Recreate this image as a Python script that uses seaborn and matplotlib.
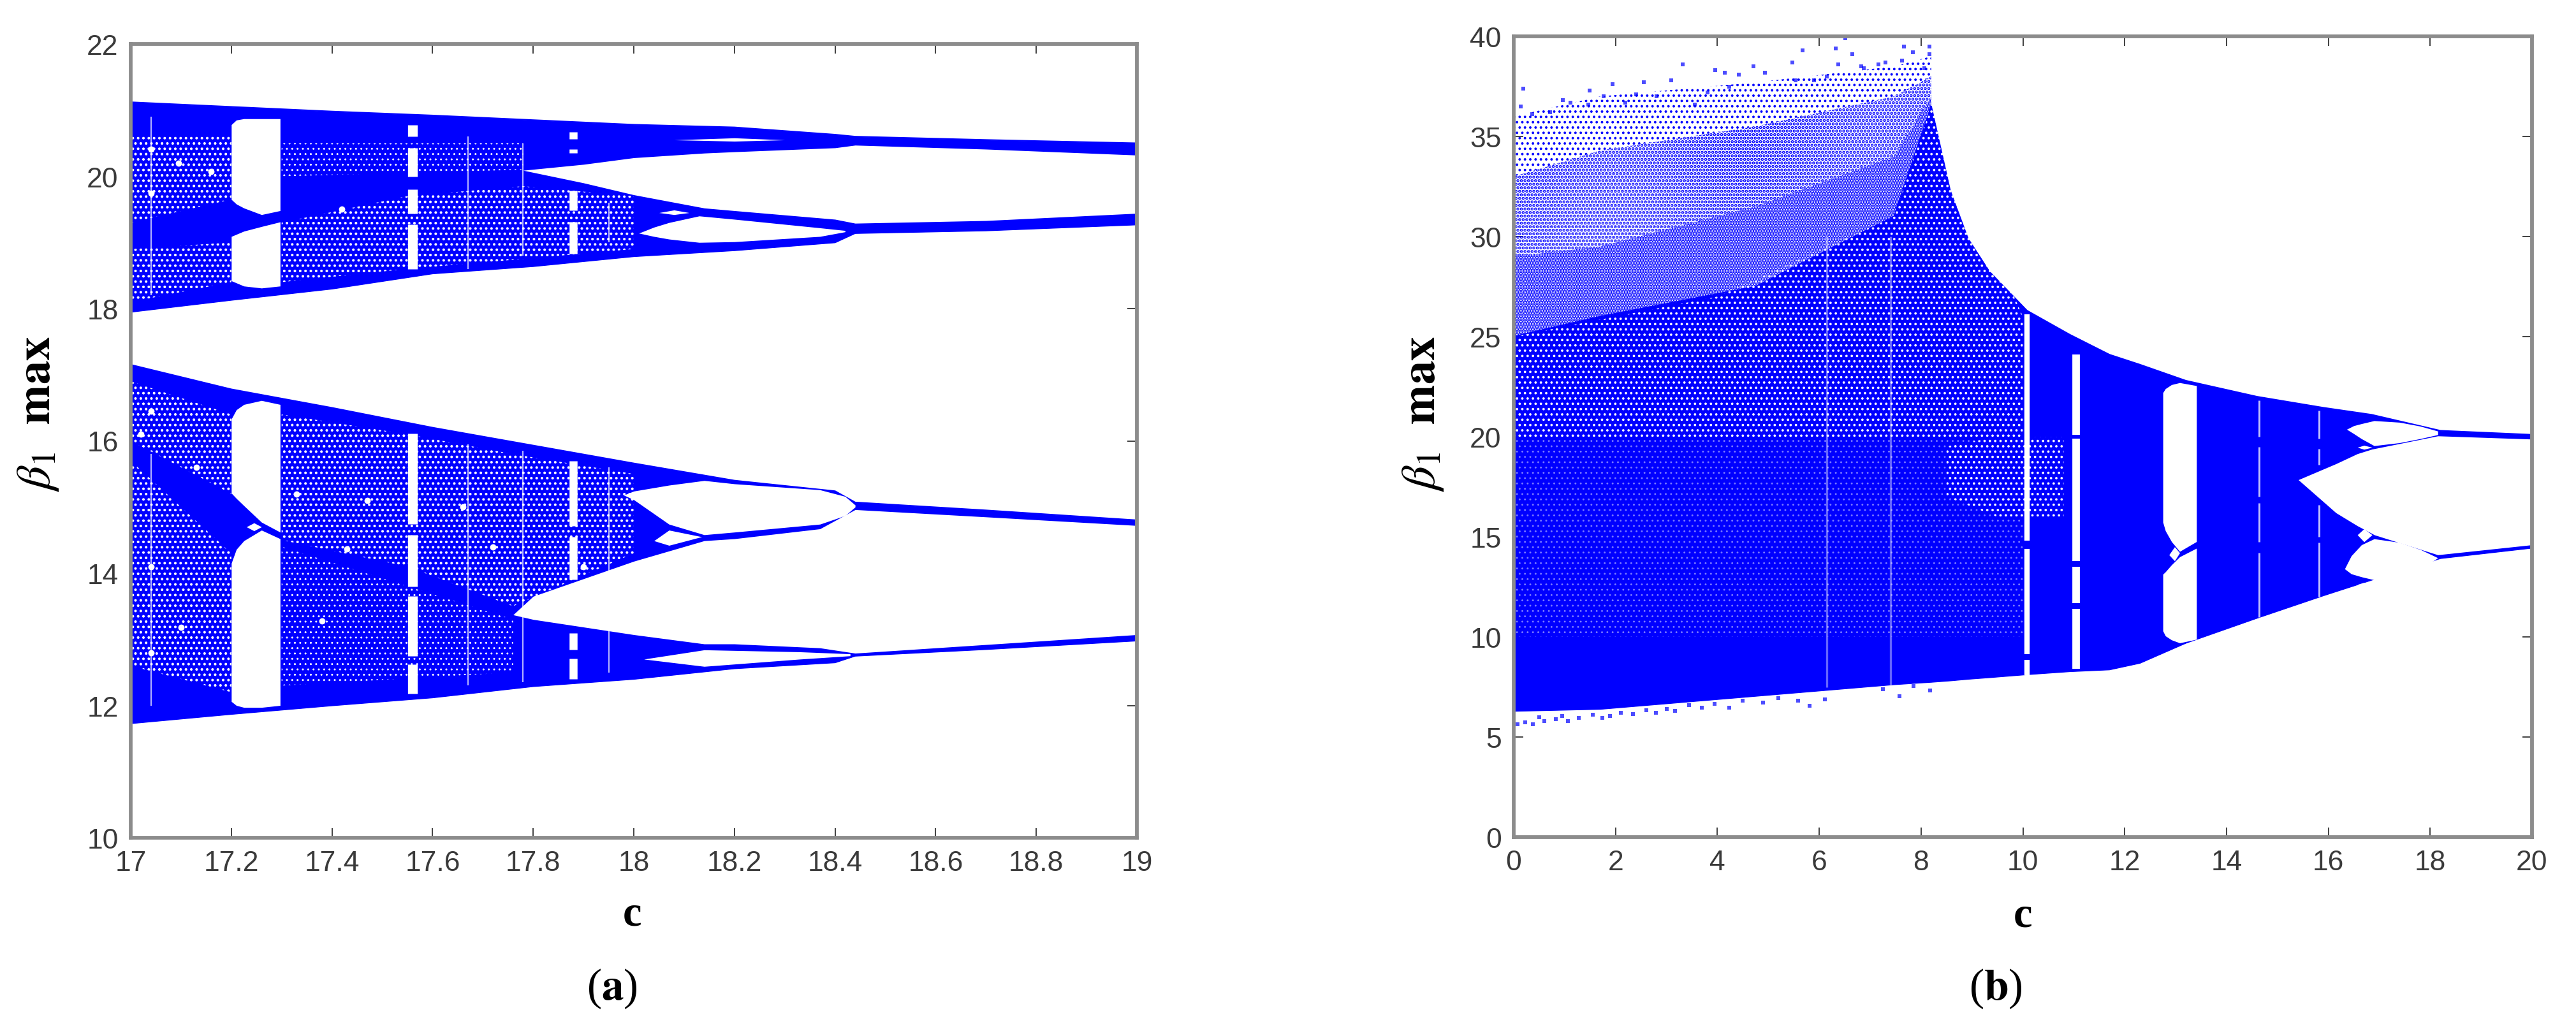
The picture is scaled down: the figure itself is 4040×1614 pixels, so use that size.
import matplotlib
matplotlib.use('Agg')
import matplotlib.pyplot as plt
import seaborn as sns

sns.set_theme(style='white')
plt.rcParams['font.family'] = ['Liberation Sans', 'DejaVu Sans']
plt.rcParams['mathtext.fontset'] = 'stix'
plt.rcParams['hatch.linewidth'] = 1.3

BLUE = '#0000ff'
WIDTH, HEIGHT = 4041, 1615

# ---- panel (a): outer bands
a_c = [17, 17.2, 17.4, 17.6, 17.8, 18, 18.2, 18.4, 18.44, 18.7, 19]
a_top_hi = [21.12, 21.05, 20.98, 20.92, 20.85, 20.78, 20.74, 20.63, 20.6, 20.55, 20.5]
a_top_lo = [17.95, 18.13, 18.3, 18.53, 18.64, 18.79, 18.88, 19.0, 19.14, 19.18, 19.27]
a_bot_hi = [17.15, 16.78, 16.5, 16.2, 15.93, 15.66, 15.4, 15.24, 15.07, 14.95, 14.8]
a_bot_lo = [11.73, 11.87, 12.0, 12.12, 12.29, 12.4, 12.56, 12.65, 12.75, 12.85, 12.98]

# panel (a): white wedges and eyes (c, low, high)
a_wedge1 = ([17.78, 17.9, 18, 18.14, 18.2, 18.4, 18.44, 18.7, 19],
            [20.09, 19.9, 19.72, 19.52, 19.48, 19.35, 19.29, 19.33, 19.44],
            [20.09, 20.18, 20.28, 20.35, 20.37, 20.43, 20.47, 20.41, 20.32])
a_wedge2 = ([17.76, 17.8, 18, 18.14, 18.2, 18.37, 18.44, 18.7, 19],
            [13.37, 13.3, 13.07, 12.93, 12.93, 12.87, 12.79, 12.92, 13.07],
            [13.37, 13.65, 14.18, 14.49, 14.52, 14.67, 14.96, 14.85, 14.72])
a_eye1 = ([18.01, 18.04, 18.07, 18.13, 18.2, 18.37, 18.42], [19.14, 19.09, 19.05, 19.0, 19.01, 19.09, 19.16], [19.14, 19.23, 19.3, 19.4, 19.35, 19.22, 19.18])
a_eye2 = ([17.98, 18.0, 18.07, 18.14, 18.2, 18.37, 18.42, 18.44], [15.18, 15.11, 14.74, 14.58, 14.62, 14.74, 14.87, 15.0], [15.18, 15.24, 15.33, 15.4, 15.35, 15.26, 15.16, 15.03])
a_eye3 = ([18.04, 18.07, 18.135], [14.49, 14.42, 14.55], [14.49, 14.65, 14.55])
a_eye4 = ([18.02, 18.14, 18.33, 18.43], [12.7, 12.59, 12.7, 12.75], [12.7, 12.84, 12.81, 12.78])
a_eye5 = ([18.08, 18.2, 18.3], [20.55, 20.53, 20.55], [20.55, 20.58, 20.55])
a_eye6 = ([18.05, 18.08, 18.11], [19.45, 19.42, 19.45], [19.45, 19.49, 19.45])
a_eye7 = ([17.23, 17.245, 17.26], [14.7, 14.64, 14.7], [14.7, 14.76, 14.7])
a_win1 = ([17.2, 17.21, 17.225, 17.26, 17.297], [19.65, 19.58, 19.52, 19.42, 19.48], [20.78, 20.85, 20.87, 20.87, 20.87])
a_win2 = ([17.2, 17.225, 17.26, 17.297], [18.42, 18.34, 18.31, 18.34], [19.09, 19.17, 19.24, 19.31])
a_win3 = ([17.2, 17.21, 17.225, 17.26, 17.297], [15.21, 15.13, 15.02, 14.77, 14.62], [16.33, 16.47, 16.55, 16.61, 16.55])
a_win4 = ([17.2, 17.21, 17.225, 17.26, 17.297], [12.06, 12.0, 11.97, 11.97, 12.0], [14.15, 14.36, 14.49, 14.65, 14.52])

# panel (a): speckled zones
a_spk1 = ([17.0, 17.2], [19.3, 19.65], [20.6, 20.6])
a_spk2 = ([17.0, 17.2], [18.1, 18.4], [18.9, 19.0])
a_spk3 = ([17.3, 17.55, 17.78, 18.0], [18.4, 18.6, 18.75, 18.9], [19.3, 19.7, 19.85, 19.7])
a_spk4 = ([17.0, 17.2], [16.0, 15.2], [16.9, 16.4])
a_spk5 = ([17.0, 17.2], [12.6, 12.2], [15.7, 14.3])
a_spk6 = ([17.3, 17.55, 17.76, 18.0], [14.5, 14.1, 13.5, 14.3], [16.4, 16.1, 15.8, 15.5])
a_spk7 = ([17.3, 17.76], [12.3, 12.5], [14.4, 13.3])
a_spk8 = ([17.3, 17.78], [20.0, 20.1], [20.5, 20.5])

# panel (a): biggest white blotches
a_blot_c = [17.04, 17.095, 17.04, 17.16, 17.42, 17.1, 17.04, 17.04, 17.04, 17.38, 17.43, 17.33, 17.02, 17.13, 17.47, 17.66, 17.72, 17.9]
a_blot_v = [20.41, 20.2, 19.74, 20.07, 19.5, 13.18, 12.8, 14.1, 16.45, 13.28, 14.37, 15.2, 16.1, 15.6, 15.1, 15.0, 14.4, 14.1]

# panel (a): white gaps (c, low, high)
a_gap_c = [17.56] * 8
a_gap_lo = [20.6, 20.0, 19.44, 18.6, 14.74, 13.8, 12.75, 12.18]
a_gap_hi = [20.78, 20.43, 19.8, 19.27, 16.11, 14.58, 13.65, 12.62]
a_gap2_c = [17.88] * 8
a_gap2_lo = [20.56, 20.35, 19.48, 18.83, 14.71, 13.9, 12.84, 12.4]
a_gap2_hi = [20.67, 20.41, 19.78, 19.31, 15.7, 14.55, 13.09, 12.71]
a_thin_c = [17.04, 17.67, 17.78, 17.95, 17.04, 17.67, 17.78, 17.95]
a_thin_lo = [18.2, 18.6, 18.8, 19.0, 12.0, 12.3, 12.35, 12.5]
a_thin_hi = [20.9, 20.6, 20.5, 19.6, 15.8, 15.95, 15.85, 15.6]

# ---- panel (b): outer band
b_c = [0, 1.7, 4.75, 7.47, 8.2, 8.57, 8.92, 9.34, 10.08, 10.92, 11.7, 12.3, 13.2, 14.6, 15.9, 16.85, 18.2, 20]
b_lo = [6.3, 6.4, 7.05, 7.63, 7.75, 7.82, 7.9, 7.98, 8.13, 8.28, 8.37, 8.7, 9.7, 10.95, 12.07, 12.85, 13.93, 14.45]
b_hi = [25, 26, 27.5, 31, 36.5, 32.3, 29.9, 28.25, 26.3, 25.1, 24.1, 23.6, 22.8, 22, 21.45, 21.1, 20.3, 20.1]

# panel (b): sparser clouds above the band
b_cloud_c = [0, 1.7, 4.75, 7.47, 8.2]
b_cloud0 = [25, 26, 27.5, 31, 36.5]
b_cloud1 = [29, 29.5, 31.5, 34, 37]
b_cloud2 = [33, 34.3, 35.5, 37, 38]
b_cloud3 = [36, 37, 37.7, 38.5, 39]

# panel (b): white wedge and eyes
b_wedge = ([15.41, 16.15, 16.57, 16.86, 16.9, 18.15, 20],
           [17.85, 16.2, 15.55, 15.16, 15.1, 14.1, 14.6],
           [17.85, 18.65, 19.15, 19.38, 19.4, 20.04, 19.88])
b_eye1 = ([16.36, 16.5, 16.65, 16.9, 17.4, 17.8, 18.15], [20.37, 20.15, 19.9, 19.55, 19.7, 19.9, 20.1], [20.37, 20.55, 20.65, 20.8, 20.72, 20.53, 20.28])
b_eye2 = ([16.32, 16.45, 16.65, 16.9, 17.4, 17.82, 18.15], [13.4, 13.15, 13.0, 12.85, 13.05, 13.4, 13.95], [13.4, 14.05, 14.6, 14.9, 14.72, 14.35, 13.95])
b_eye3 = ([16.57, 16.7, 16.86], [15.1, 14.75, 15.1], [15.1, 15.4, 15.1])
b_eye4 = ([16.57, 16.7, 16.86], [19.47, 19.37, 19.47], [19.47, 19.57, 19.47])
b_eye5 = ([16.57, 16.7, 16.83], [12.62, 12.55, 12.62], [12.62, 12.72, 12.62])
b_eye6 = ([12.87, 12.98, 13.08], [14.1, 13.8, 14.2], [14.1, 14.5, 14.2])
b_win1 = ([12.75, 12.8, 12.92, 13.08, 13.41], [15.73, 15.3, 14.76, 14.27, 14.76], [22.2, 22.4, 22.6, 22.7, 22.55])
b_win2 = ([12.75, 12.8, 12.92, 13.08, 13.41], [10.3, 10.05, 9.85, 9.7, 9.88], [13.13, 13.25, 13.6, 14.0, 14.43])

# panel (b): white gaps
b_gap_c = [10.08] * 3
b_gap_lo = [14.8, 9.15, 8.1]
b_gap_hi = [26.1, 14.4, 8.85]
b_gap2_c = [11.05] * 4
b_gap2_lo = [20.1, 13.8, 11.7, 8.4]
b_gap2_hi = [24.1, 19.9, 13.5, 11.4]
b_thin_c = [14.64] * 4 + [15.82] * 4
b_thin_lo = [20.0, 17.0, 14.75, 11.0, 19.9, 18.6, 15.0, 12.0]
b_thin_hi = [21.8, 19.5, 16.7, 14.2, 21.3, 19.4, 16.6, 14.7]
b_faint_c = [7.4, 6.15]
b_faint_lo = [7.6, 7.5]
b_faint_hi = [30.0, 30.0]

# panel (b): speckle inside the solid band
b_spk1 = ([0, 4, 7.47, 8.2, 10], [20, 20, 20, 20, 20], [25, 27, 31, 36.5, 26])
b_spk2 = ([0, 4, 8, 10], [10, 10, 10, 10], [20, 20, 20, 20])
b_spk3 = ([8.5, 9.5, 10.8], [17, 16, 16], [19.5, 20, 20])

# panel (b): isolated points
b_pts_c = [.19, .14, 1.49, 1.94, 2.55, 3.09, 3.32, 3.96, 4.14, 4.42, 4.71, 4.93, 5.47, 5.67, 6.15, 6.33, 6.51, 6.65,
           6.87, 7.3, 7.66, 7.84, 8.17, 8.17, 8.06, .97, 1.12, 1.47, 1.76, 2.41, 2.81, .36, .72, 2.19, 3.56, 3.81,
           4.23, 5.54, 5.9, 6.37, 6.83, 7.16, 7.63,
           .23, .6, 1.06, 1.74, 2.34, 3.17, 3.7, 4.23, 4.9, 5.58, 5.81, 6.11, 7.25, 7.58, 7.85, 8.18,
           .08, .38, .83, 1.28, 1.89, 2.79, .5, .95, 1.55, 2.1, 2.6, 3.0, 3.45, 3.95, 4.5, 5.2]
b_pts_v = [37.4, 36.5, 37.3, 37.6, 37.7, 37.8, 38.6, 38.3, 38.2, 38.1, 38.5, 38.2, 38.7, 39.3, 38, 39.4, 39.9, 39.1,
           38.4, 38.7, 39.5, 39.2, 39.5, 39.1, 38.4, 36.8, 36.7, 36.6, 37, 37.1, 37, 36.1, 36.2, 36.7, 36.6, 37.2,
           37.5, 37.8, 37.8, 38.6, 38.5, 38.6, 38.8,
           5.72, 5.8, 5.8, 5.97, 6.14, 6.3, 6.47, 6.47, 6.72, 6.8, 6.55, 6.88, 7.38, 7.05, 7.55, 7.33,
           5.64, 5.64, 5.89, 5.97, 6.05, 6.22, 6.0, 6.05, 6.1, 6.2, 6.35, 6.4, 6.6, 6.65, 6.8, 6.95]

a_xticks = [17, 17.2, 17.4, 17.6, 17.8, 18, 18.2, 18.4, 18.6, 18.8, 19]
a_xlabels = ['17', '17.2', '17.4', '17.6', '17.8', '18', '18.2', '18.4', '18.6', '18.8', '19']
a_yticks = [10, 12, 14, 16, 18, 20, 22]
b_xticks = [0, 2, 4, 6, 8, 10, 12, 14, 16, 18, 20]
b_yticks = [0, 5, 10, 15, 20, 25, 30, 35, 40]


def make_axes(fig, left, right, top, bottom):
    return fig.add_axes([left / WIDTH, 1 - bottom / HEIGHT, (right - left) / WIDTH, (bottom - top) / HEIGHT])


def band(ax, c, lo, hi):
    ax.fill_between(c, lo, hi, color=BLUE, lw=0, zorder=1)
    # edges drawn by seaborn so the outline is slightly fuzzy like the dots
    sns.lineplot(x=c, y=hi, ax=ax, color=BLUE, lw=1.6, estimator=None, errorbar=None, zorder=1)
    sns.lineplot(x=c, y=lo, ax=ax, color=BLUE, lw=1.6, estimator=None, errorbar=None, zorder=1)


def blank(ax, zone):
    ax.fill_between(zone[0], zone[1], zone[2], color='white', lw=0, zorder=4)


def speckle(ax, zone, hatch='..', color='white', z=2, dot=1.3):
    with plt.rc_context({'hatch.linewidth': dot}):
        ax.fill_between(zone[0], zone[1], zone[2], facecolor='none', edgecolor=color, hatch=hatch, lw=0, zorder=z)


def finish(ax, xlim, ylim, xticks, xlabels, yticks):
    ax.set_xlim(xlim)
    ax.set_ylim(ylim)
    ax.set_xticks(xticks)
    ax.set_xticklabels(xlabels)
    ax.set_yticks(yticks)
    ax.set_xlabel('')
    ax.set_ylabel('')
    ax.tick_params(direction='in', length=11, width=1.4, color='#404040', labelcolor='#3a3a3a',
                   labelsize=32, pad=14, top=True, right=True, bottom=True, left=True)
    for s in ax.spines.values():
        s.set_color('#8c8c8c')
        s.set_linewidth(4.2)
        s.set_visible(True)
        s.set_zorder(6)


fig = plt.figure(figsize=(WIDTH / 100, HEIGHT / 100), dpi=100, facecolor='white')

# panel (a)
ax1 = make_axes(fig, 205, 1783, 70, 1315)
band(ax1, a_c, a_top_lo, a_top_hi)
band(ax1, a_c, a_bot_lo, a_bot_hi)
for z in [a_spk1, a_spk2, a_spk3, a_spk4, a_spk5, a_spk6]:
    speckle(ax1, z, '..', dot=1.7)
for z in [a_spk7, a_spk8]:
    speckle(ax1, z, '..', dot=1.0)
sns.scatterplot(x=a_blot_c, y=a_blot_v, ax=ax1, color='white', s=50, marker='o', linewidth=0, zorder=3)
for z in [a_wedge1, a_wedge2, a_eye1, a_eye2, a_eye3, a_eye4, a_eye5, a_eye6, a_eye7, a_win1, a_win2, a_win3, a_win4]:
    blank(ax1, z)
ax1.vlines(a_gap_c, a_gap_lo, a_gap_hi, color='white', lw=11, zorder=4)
ax1.vlines(a_gap2_c, a_gap2_lo, a_gap2_hi, color='white', lw=9, zorder=4)
ax1.vlines(a_thin_c, a_thin_lo, a_thin_hi, color='white', lw=1.6, alpha=0.7, zorder=4)
finish(ax1, (17, 19), (10, 22), a_xticks, a_xlabels, a_yticks)

# panel (b)
ax2 = make_axes(fig, 2374, 3971, 58, 1314)
band(ax2, b_c, b_lo, b_hi)
speckle(ax2, (b_cloud_c, b_cloud0, b_cloud1), '....', BLUE, 1, dot=2.6)
speckle(ax2, (b_cloud_c, b_cloud1, b_cloud2), '...', BLUE, 1, dot=2.4)
speckle(ax2, (b_cloud_c, b_cloud2, b_cloud3), '..', BLUE, 1, dot=1.6)
speckle(ax2, b_spk1, '..', dot=1.5)
speckle(ax2, b_spk2, '..', '#7a7aff', dot=0.9)
speckle(ax2, b_spk3, '..', dot=1.5)
for z in [b_wedge, b_eye1, b_eye2, b_eye3, b_eye4, b_eye5, b_eye6, b_win1, b_win2]:
    blank(ax2, z)
ax2.vlines(b_gap_c, b_gap_lo, b_gap_hi, color='white', lw=6, zorder=4)
ax2.vlines(b_gap2_c, b_gap2_lo, b_gap2_hi, color='white', lw=8.5, zorder=4)
ax2.vlines(b_thin_c, b_thin_lo, b_thin_hi, color='white', lw=2.2, alpha=0.75, zorder=4)
ax2.vlines(b_faint_c, b_faint_lo, b_faint_hi, color='white', lw=2.4, alpha=0.4, zorder=4)
sns.scatterplot(x=b_pts_c, y=b_pts_v, ax=ax2, color=BLUE, s=20, marker='s', alpha=0.7, linewidth=0, zorder=3)
finish(ax2, (0, 20), (0, 40), b_xticks, b_xticks, b_yticks)

# axis labels and panel captions
serif = ['Liberation Serif', 'DejaVu Serif']
for x, y, s in [(992, 1435, 'c'), (3173, 1437, 'c')]:
    fig.text(x / WIDTH, 1 - y / HEIGHT, s, family=serif, weight='bold', size=48, color='black', ha='center', va='center')
for x, y, s in [(60, 650, r'$\beta_{1}\ \ \mathbf{max}$'), (2232, 650, r'$\beta_{1}\ \ \mathbf{max}$')]:
    fig.text(x / WIDTH, 1 - y / HEIGHT, s, size=54, rotation=90, color='black', ha='center', va='center')
for x, y, s in [(960, 1551, r'($\mathbf{a}$)'), (3130, 1551, r'($\mathbf{b}$)')]:
    fig.text(x / WIDTH, 1 - y / HEIGHT, s, family=serif, size=50, color='black', ha='center', va='center')

fig.savefig('out.png', dpi=100)
